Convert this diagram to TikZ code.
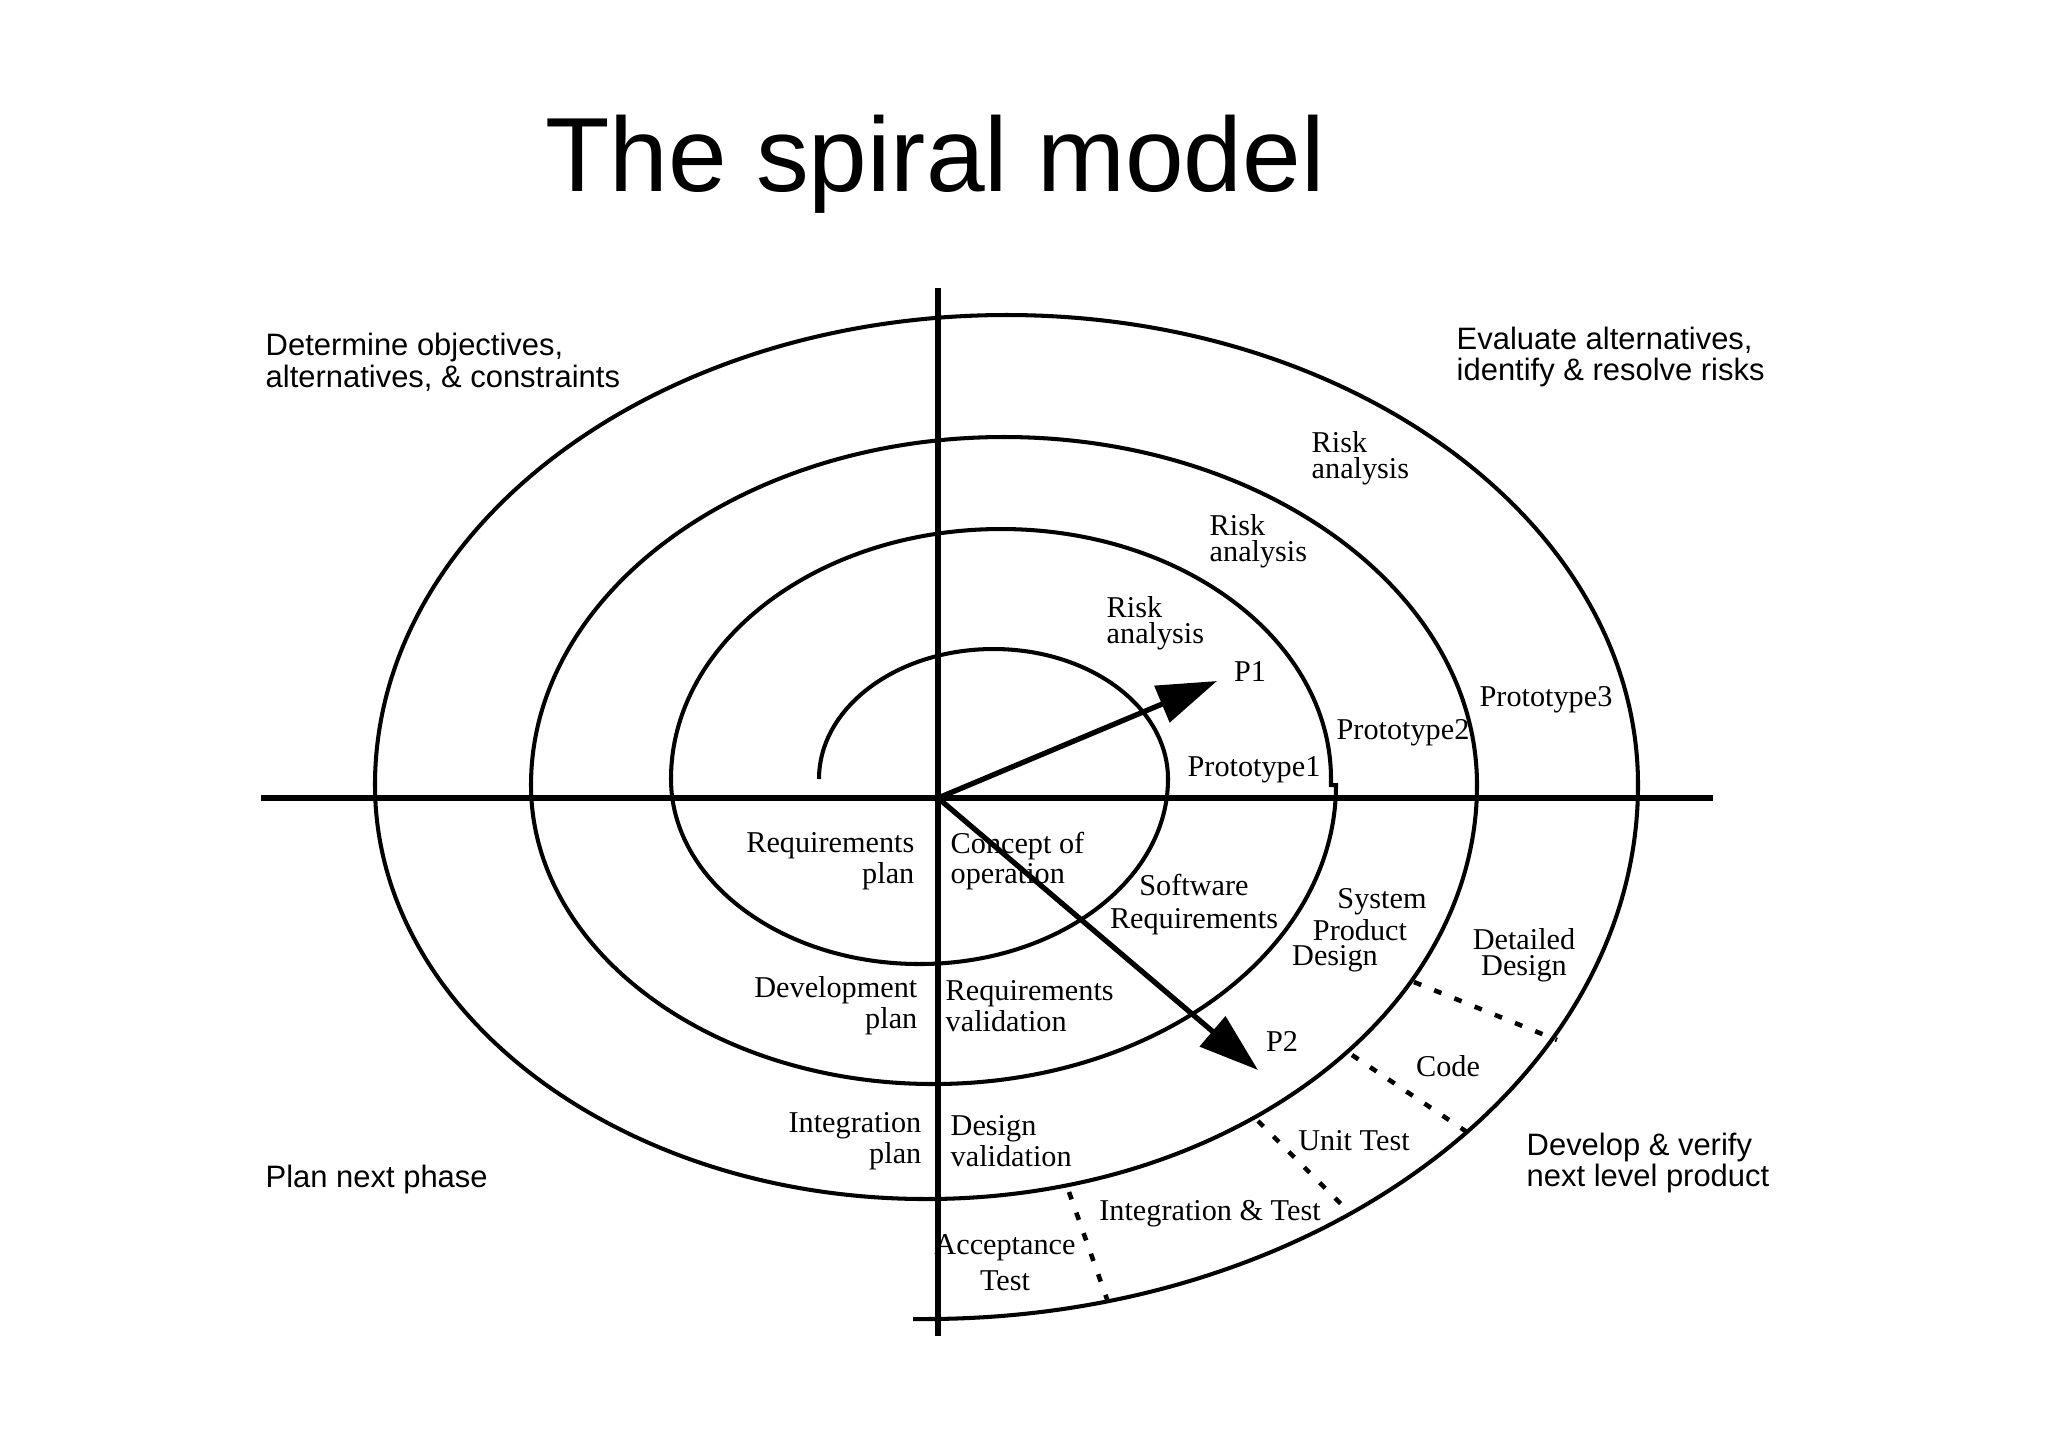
\documentclass[tikz,border=0pt]{standalone}
\usepackage{fontspec}
\setmainfont{Liberation Serif}
\newfontfamily\headfont{Liberation Sans}
\usetikzlibrary{arrows.meta}
\tikzset{
    spiral/.style={line width=1.15pt},
    axis/.style={line width=1.5pt},
    phase/.style={font=\headfont\fontsize{8.8}{9}\selectfont, align=left, anchor=west, inner sep=0pt},
    task/.style={font=\fontsize{8.6}{7.4}\selectfont, inner sep=0pt},
    sep/.style={line width=1.3pt, dash pattern=on 2.2pt off 4pt},
    proto/.style={line width=1.5pt, -{Triangle[length=17pt,width=11pt]}}
}
\newcommand\sepline[2]{
        \draw[sep] (#1) -- (#2);
}

\begin{document}
\begin{tikzpicture}[x=0.01cm, y=0.01cm]
    \useasboundingbox (0,0) rectangle (2048,-1447);

    %title and quadrant headings:
    \node[font=\headfont\fontsize{30}{32}\selectfont, anchor=base] (title) at (935,-191) {The spiral model};
    \node[phase] (determine) at (265,-362) {Determine objectives,\\alternatives, \& constraints};
    \node[phase] (evaluate) at (1456,-357) {Evaluate alternatives,\\identify \& resolve risks};
    \node[phase] (plannext) at (265,-1179) {Plan next phase};
    \node[phase] (develop) at (1526,-1163) {Develop \& verify\\next level product};

    %axes:
    \coordinate (origin) at (938,-798);
    \coordinate (axL) at (261,-798);
    \coordinate (axR) at (1713,-798);
    \coordinate (axT) at (938,-288);
    \coordinate (axB) at (938,-1336);
    \draw[axis] (axL) -- (axR);
    \draw[axis] (axT) -- (axB);

    %the spiral, half turn by half turn:
    \draw[spiral] (819,-779)
        arc[start angle=180, end angle=0, x radius=174.5, y radius=130]
        arc[start angle=0, end angle=-180, x radius=248.5, y radius=185]
        arc[start angle=180, end angle=0, x radius=330, y radius=250]
        -- ++(0,-6) -- ++(5,0)
        arc[start angle=0, end angle=-180, x radius=402.5, y radius=299]
        arc[start angle=180, end angle=0, x radius=473, y radius=348]
        arc[start angle=0, end angle=-180, x radius=551, y radius=414]
        arc[start angle=180, end angle=0, x radius=631.5, y radius=470]
        arc[start angle=0, end angle=-90, x radius=713, y radius=534]
        -- ++(-12,0);

    %prototypes:
    \coordinate (p1tip) at (1217,-681);
    \coordinate (p2tip) at (1258,-1070);
    \draw[proto] (origin) -- (p1tip);
    \draw[proto] (origin) -- (p2tip);
    \node[task] (p1) at (1250,-671) {P1};
    \node[task] (p2) at (1282,-1041) {P2};

    %dotted separators of the last turn:
    \coordinate (ddA) at (1414,-982);  \coordinate (ddB) at (1557,-1040);
    \coordinate (coA) at (1352,-1055); \coordinate (coB) at (1467,-1132);
    \coordinate (utA) at (1258,-1121); \coordinate (utB) at (1345,-1208);
    \coordinate (acA) at (1069,-1192); \coordinate (acB) at (1108,-1302);
    \sepline{ddA}{ddB};
    \sepline{coA}{coB};
    \sepline{utA}{utB};
    \sepline{acA}{acB};

    %risk analysis and prototypes:
    \node[task, anchor=west, align=left] (risk3) at (1311,-458) {Risk\\analysis};
    \node[task, anchor=west, align=left] (risk2) at (1209,-541) {Risk\\analysis};
    \node[task, anchor=west, align=left] (risk1) at (1106,-623) {Risk\\analysis};
    \node[task] (proto1) at (1254,-770) {Prototype1};
    \node[task] (proto2) at (1403,-733) {Prototype2};
    \node[task] (proto3) at (1546,-700) {Prototype3};

    %plans (left of the axis):
    \node[task, anchor=east, align=right] (reqplan) at (915,-861) {Requirements\\plan};
    \node[task, anchor=east, align=right] (devplan) at (918,-1006) {Development\\plan};
    \node[task, anchor=east, align=right] (intplan) at (922,-1141) {Integration\\plan};

    %steps (right of the axis):
    \node[task, anchor=west, align=left] (concept) at (950,-861) {Concept of\\operation};
    \node[task, anchor=west, align=left] (reqval) at (945,-1006) {Requirements\\validation};
    \node[task, anchor=west, align=left] (desval) at (950,-1141) {Design\\validation};
    \node[task] (swreq1) at (1194,-885) {Software};
    \node[task] (swreq2) at (1194,-922) {Requirements};
    \node[task] (sys1) at (1382,-902) {System};
    \node[task] (sys2) at (1360,-930) {Product};
    \node[task] (sys3) at (1335,-959) {Design};
    \node[task, align=center] (detail) at (1524,-955) {Detailed\\Design};
    \node[task] (code) at (1448,-1066) {Code};
    \node[task] (unittest) at (1354,-1141) {Unit Test};
    \node[task] (inttest) at (1210,-1214) {Integration \& Test};
    \node[task] (acc1) at (1005,-1248) {Acceptance};
    \node[task] (acc2) at (1005,-1281) {Test};

\end{tikzpicture}
\end{document}
